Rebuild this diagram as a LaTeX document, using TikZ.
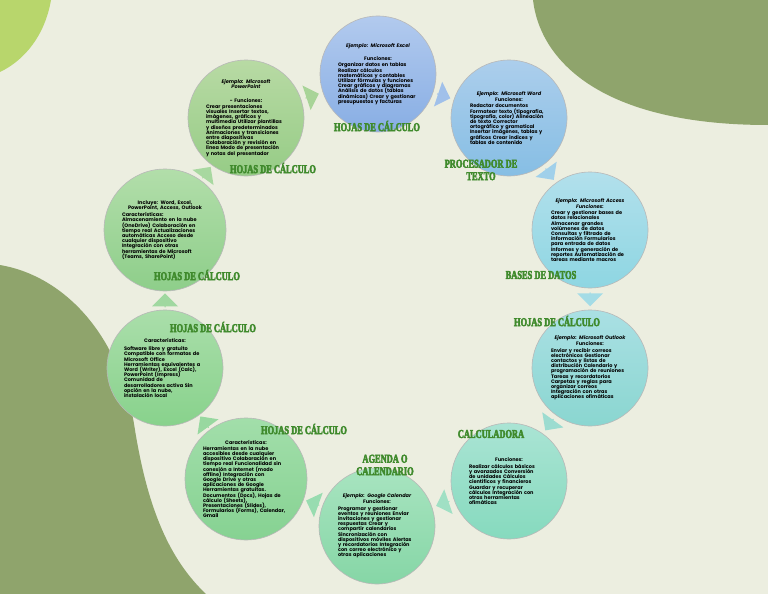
\documentclass[tikz,border=0pt]{standalone}
\usepackage{fontspec}
\setmainfont{Poppins}
\newfontfamily\labelfont[FakeStretch=0.7]{Liberation Serif}
\usetikzlibrary{shapes.arrows,calc}

\definecolor{bgc}{HTML}{ECEEE0}
\definecolor{limec}{HTML}{B8D66C}
\definecolor{olivec}{HTML}{8FA46C}
\definecolor{lbl}{HTML}{3F8A2C}

\newcommand{\ctr}[1]{\makebox[\linewidth][c]{#1}}
\newcommand{\jst}[1]{\makebox[\linewidth][s]{#1}}
\newcommand{\heavy}[1]{\special{pdf:literal direct 2 Tr 0.45 w}#1\special{pdf:literal direct 0 Tr}}
\newcommand{\bubblefont}{\fontsize{5}{5.2}\selectfont\bfseries\setlength{\lineskiplimit}{-6pt}\setlength{\lineskip}{0pt}}

\tikzset{
  bubble/.style={circle, draw=black!28, line width=0.6pt, inner sep=0pt,
    minimum size=116pt, align=left, text=black, font=\bubblefont},
  tag/.style={font=\labelfont\bfseries\fontsize{12}{12.5}\selectfont,
    text=lbl, inner sep=0pt, align=center},
  flow/.style={single arrow, draw=none, minimum height=14pt, minimum width=26pt,
    single arrow head extend=5pt, inner sep=0pt, sloped, allow upside down},
}

\begin{document}
\begin{tikzpicture}[x=1pt,y=-1pt]
\useasboundingbox (0,0) rectangle (768,594);
% background
\fill[bgc] (0,0) rectangle (768,594);
\fill[limec] (0,0) -- (51,0) .. controls (45,35) and (25,60) .. (0,72) -- cycle;
\fill[olivec] (533,0) .. controls (540,60) and (600,125) .. (768,125) -- (768,0) -- cycle;
\fill[olivec] (0,265) .. controls (60,275) and (120,330) .. (135,430)
   .. controls (148,510) and (170,560) .. (206,594) -- (0,594) -- cycle;

% circles
\node[bubble, top color={rgb,255:red,178;green,202;blue,238}, bottom color={rgb,255:red,136;green,174;blue,228}, text width=80pt] (excel) at (378,74) {%
\ctr{\itshape Ejemplo: Microsoft Excel}\\[8pt]
\ctr{Funciones:}\\[1pt]
Organizar datos en tablas\\
Realizar cálculos\\
matemáticos y contables\\
Utilizar fórmulas y funciones\\
Crear gráficos y diagramas\\
Análisis de datos (tablas\\
dinámicas) Crear y gestionar\\
presupuestos y facturas};

\node[bubble, top color={rgb,255:red,172;green,206;blue,236}, bottom color={rgb,255:red,134;green,190;blue,228}, text width=78pt] (word) at (509,118) {%
\ctr{\itshape Ejemplo: Microsoft Word}\\[1pt]
\ctr{Funciones:}\\[1pt]
Redactar documentos\\
Formatear texto (tipografía,\\
tipografía, color) Alineación\\
de texto Corrector\\
ortográfico y gramatical\\
Insertar imágenes, tablas y\\
gráficos Crear índices y\\
tablas de contenido};

\node[bubble, top color={rgb,255:red,178;green,224;blue,236}, bottom color={rgb,255:red,142;green,214;blue,226}, text width=78pt] (access) at (590,230) {%
\ctr{\itshape Ejemplo: Microsoft Access}\\[1pt]
\ctr{\itshape Funciones:}\\[1pt]
Crear y gestionar bases de\\
datos relacionales\\
Almacenar grandes\\
volúmenes de datos\\
Consultas y filtrado de\\
información Formularios\\
para entrada de datos\\
Informes y generación de\\
reportes Automatización de\\
tareas mediante macros};

\node[bubble, top color={rgb,255:red,170;green,224;blue,228}, bottom color={rgb,255:red,138;green,214;blue,208}, text width=78pt] (outlook) at (590,368) {%
\ctr{\itshape Ejemplo: Microsoft Outlook}\\[1pt]
\ctr{Funciones:}\\[1pt]
Enviar y recibir correos\\
electrónicos Gestionar\\
contactos y listas de\\
distribución Calendario y\\
programación de reuniones\\
Tareas y recordatorios\\
Carpetas y reglas para\\
organizar correos\\
Integración con otras\\
aplicaciones ofimáticas};

\node[bubble, top color={rgb,255:red,170;green,228;blue,212}, bottom color={rgb,255:red,134;green,218;blue,190}, text width=80pt] (calc) at (509,481) {%
\ctr{Funciones:}\\[2pt]
Realizar cálculos básicos\\
y avanzados Conversión\\
de unidades Cálculos\\
científicos y financieros\\
Guardar y recuperar\\
cálculos Integración con\\
otras herramientas\\
ofimáticas};

\node[bubble, top color={rgb,255:red,168;green,228;blue,192}, bottom color={rgb,255:red,134;green,214;blue,166}, text width=78pt] (calendar) at (377,526) {%
\ctr{\itshape Ejemplo: Google Calendar}\\[1pt]
\ctr{Funciones:}\\[1pt]
Programar y gestionar\\
eventos y reuniones Enviar\\
invitaciones y gestionar\\
respuestas Crear y\\
compartir calendarios\\
Sincronización con\\
dispositivos móviles Alertas\\
y recordatorios Integración\\
con correo electrónico y\\
otras aplicaciones};

\node[bubble, minimum size=122pt, top color={rgb,255:red,162;green,222;blue,170}, bottom color={rgb,255:red,134;green,210;blue,146}, text width=86pt] (google) at (246,479) {%
\ctr{Características:}\\[1pt]
\jst{Herramientas en la nube}\\
\jst{accesibles desde cualquier}\\
\jst{dispositivo Colaboración en}\\
\jst{tiempo real Funcionalidad sin}\\
\jst{conexión a Internet (modo}\\
\jst{offline) Integración con}\\
\jst{Google Drive y otras}\\
\jst{aplicaciones de Google}\\
\jst{Herramientas gratuitas.}\\
\jst{Documentos (Docs), Hojas de}\\
\jst{cálculo (Sheets),}\\
\jst{Presentaciones (Slides),}\\
\jst{Formularios (Forms), Calendar,}\\
Gmail};

\node[bubble, top color={rgb,255:red,170;green,222;blue,170}, bottom color={rgb,255:red,136;green,210;blue,140}, text width=82pt] (libre) at (165,368) {%
\ctr{Características:}\\[3pt]
\jst{Software libre y gratuito}\\
\jst{Compatible con formatos de}\\
\jst{Microsoft Office}\\
\jst{Herramientas equivalentes a}\\
\jst{Word (Writer), Excel (Calc),}\\
\jst{PowerPoint (Impress)}\\
\jst{Comunidad de}\\
\jst{desarrolladores activa Sin}\\
\jst{opción en la nube,}\\
instalación local};

\node[bubble, minimum size=122pt, top color={rgb,255:red,178;green,222;blue,170}, bottom color={rgb,255:red,142;green,206;blue,138}, text width=86pt] (ms365) at (165,230) {%
\ctr{Incluye: Word, Excel,}\\
\ctr{PowerPoint, Access, Outlook}\\[2pt]
Características:\\
\jst{Almacenamiento en la nube}\\
\jst{(OneDrive) Colaboración en}\\
\jst{tiempo real Actualizaciones}\\
\jst{automáticas Acceso desde}\\
\jst{cualquier dispositivo}\\
\jst{Integración con otras}\\
\jst{herramientas de Microsoft}\\
(Teams, SharePoint)};

\node[bubble, top color={rgb,255:red,184;green,218;blue,164}, bottom color={rgb,255:red,150;green,204;blue,134}, text width=80pt] (ppt) at (246,118) {%
\ctr{\itshape Ejemplo: Microsoft}\\
\ctr{\itshape PowerPoint}\\[8pt]
\ctr{- Funciones:}\\[1pt]
Crear presentaciones\\
visuales Insertar textos,\\
imágenes, gráficos y\\
multimedia Utilizar plantillas\\
y diseños predeterminados\\
Animaciones y transiciones\\
entre diapositivas\\
Colaboración y revisión en\\
línea Modo de presentación\\
y notas del presentador};

% arrows
\path (excel) -- node[flow, fill={rgb,255:red,160;green,192;blue,234}] (a1) {} (word);
\path (word) -- node[flow, fill={rgb,255:red,160;green,208;blue,234}] (a2) {} (access);
\path (access) -- node[flow, fill={rgb,255:red,164;green,220;blue,230}] (a3) {} (outlook);
\path (outlook) -- node[flow, fill={rgb,255:red,156;green,220;blue,208}] (a4) {} (calc);
\path (calc) -- node[flow, fill={rgb,255:red,160;green,224;blue,196}] (a5) {} (calendar);
\path (calendar) -- node[flow, fill={rgb,255:red,152;green,220;blue,176}] (a6) {} (google);
\path (google) -- node[flow, fill={rgb,255:red,152;green,216;blue,160}] (a7) {} (libre);
\path (libre) -- node[flow, fill={rgb,255:red,160;green,216;blue,160}] (a8) {} (ms365);
\path (ms365) -- node[flow, fill={rgb,255:red,168;green,216;blue,160}] (a9) {} (ppt);
\path (ppt) -- node[flow, fill={rgb,255:red,168;green,212;blue,152}] (a10) {} (excel);

% labels
\node[tag] (l1) at (377,126) {\heavy{HOJAS DE CÁLCULO}};
\node[tag] (l2) at (481,170) {\heavy{PROCESADOR DE}\\\heavy{TEXTO}};
\node[tag] (l3) at (541,275) {\heavy{BASES DE DATOS}};
\node[tag] (l4) at (557,321) {\heavy{HOJAS DE CÁLCULO}};
\node[tag] (l5) at (491,434) {\heavy{CALCULADORA}};
\node[tag] (l6) at (385,465) {\heavy{AGENDA O}\\\heavy{CALENDARIO}};
\node[tag] (l7) at (304,429) {\heavy{HOJAS DE CÁLCULO}};
\node[tag] (l8) at (213,327) {\heavy{HOJAS DE CÁLCULO}};
\node[tag] (l9) at (197,275) {\heavy{HOJAS DE CÁLCULO}};
\node[tag] (l10) at (273,168) {\heavy{HOJAS DE CÁLCULO}};
\end{tikzpicture}
\end{document}
